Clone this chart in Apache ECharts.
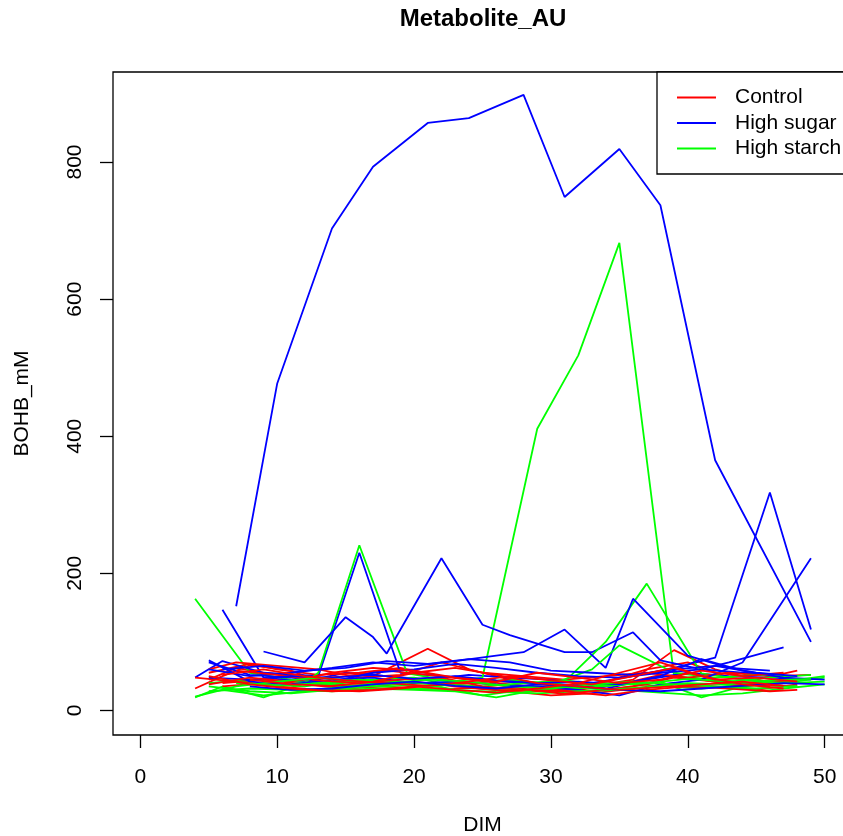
<!DOCTYPE html>
<html>
<head>
<meta charset="utf-8">
<title>Metabolite_AU</title>
<script src="https://cdn.jsdelivr.net/npm/echarts@6/dist/echarts.min.js"></script>
<style>
  html, body { margin: 0; padding: 0; background: #fff; }
  #chart { width: 843px; height: 836px; }
</style>
</head>
<body>
<div id="chart"></div>
<script>
// BOHB (mM) per animal across days in milk, one [DIM, value] list per animal.
const groupNames = ['Control', 'High sugar', 'High starch'];
const groupColors = ['#FF0000', '#0000FF', '#00FF00'];

const controlCows = [
  [[5,45],[7,62],[9,55],[12,48],[14,42],[17,50],[21,90],[24,60],[27,45],[30,38],[33,35],[36,45],[39,88],[42,60],[45,45],[48,58]],
  [[4,32],[6,50],[8,66],[11,58],[14,35],[17,38],[20,42],[23,35],[26,30],[29,28],[32,30],[35,38],[38,52],[41,45],[44,35],[47,40]],
  [[5,55],[8,68],[10,60],[13,52],[16,55],[19,62],[22,50],[25,45],[28,40],[31,35],[34,42],[37,60],[40,70],[43,48],[46,42],[48,45]],
  [[6,40],[9,45],[12,38],[15,32],[18,35],[21,30],[24,33],[27,28],[30,22],[33,25],[36,32],[39,40],[42,35],[45,30],[48,38]],
  [[5,60],[7,70],[10,65],[13,60],[16,48],[19,52],[22,70],[25,55],[28,50],[31,45],[34,50],[37,55],[40,48],[43,55],[46,50],[49,52]],
  [[6,35],[9,40],[12,45],[15,50],[18,58],[21,52],[24,45],[27,38],[30,32],[33,28],[36,35],[39,48],[42,42],[45,38],[48,35]],
  [[4,48],[7,42],[10,35],[13,30],[16,28],[19,32],[22,38],[25,40],[28,32],[31,24],[34,30],[37,38],[40,55],[43,40],[46,35]],
  [[7,58],[10,52],[13,44],[16,40],[19,45],[22,48],[25,35],[28,30],[31,28],[34,22],[37,30],[40,35],[43,32],[46,28],[48,30]],
  [[5,38],[8,48],[11,42],[14,55],[17,62],[20,58],[23,48],[26,42],[29,55],[32,48],[35,40],[38,45],[41,58],[44,50],[47,55]],
  [[6,52],[9,60],[12,50],[15,44],[18,40],[21,36],[24,42],[27,50],[30,44],[33,38],[36,50],[39,62],[42,45],[45,48],[48,42]],
  [[8,45],[11,38],[14,36],[17,42],[20,55],[23,62],[26,52],[29,40],[32,35],[35,30],[38,34],[41,38],[44,42],[47,36]],
  [[5,50],[8,38],[11,32],[14,28],[17,30],[20,35],[23,30],[26,26],[29,32],[32,40],[35,55],[38,70],[41,50],[44,38],[47,32]]
];

const highSugarCows = [
  [[7,152],[10,477],[14,703],[17,793],[21,857],[24,864],[28,898],[31,749],[35,819],[38,737],[42,365],[49,100]],
  [[6,147],[9,48],[12,42],[15,55],[18,50],[21,45],[24,52],[27,48],[30,45],[33,40],[36,50],[39,62],[42,77],[46,318],[49,118]],
  [[4,48],[6,72],[9,55],[13,50],[16,230],[19,55],[22,50],[25,45],[28,40],[31,38],[34,32],[37,45],[40,55],[43,50],[46,48],[49,45]],
  [[9,86],[12,70],[15,136],[17,107],[18,83],[22,222],[25,125],[27,110],[31,85],[33,85],[36,114],[38,73],[41,60],[44,55],[47,52]],
  [[5,60],[8,50],[11,55],[14,62],[17,70],[20,65],[23,72],[26,80],[28,85],[31,118],[34,62],[36,163],[40,80],[43,62],[46,58]],
  [[5,73],[8,42],[11,38],[14,45],[17,48],[20,40],[23,42],[26,38],[29,35],[32,30],[35,22],[38,38],[41,45],[44,70],[49,222]],
  [[5,70],[8,52],[11,48],[14,42],[17,55],[20,60],[23,68],[26,62],[29,55],[32,50],[35,48],[38,55],[41,60],[43,70],[47,92]],
  [[5,48],[8,45],[11,50],[14,48],[17,52],[20,46],[23,50],[26,44],[29,40],[32,42],[35,38],[38,50],[41,75],[44,58],[47,48],[50,45]],
  [[6,60],[9,65],[12,58],[15,62],[18,72],[21,68],[24,75],[27,70],[30,58],[33,55],[36,52],[39,60],[42,65],[45,55],[48,50]],
  [[8,35],[11,30],[14,32],[17,38],[20,42],[23,36],[26,32],[29,38],[32,35],[35,30],[38,28],[41,32],[44,36],[47,40],[50,38]]
];

const highStarchCows = [
  [[4,163],[8,55],[11,45],[14,38],[17,35],[20,40],[23,36],[26,32],[29,30],[32,34],[35,40],[38,36],[41,32],[44,38],[47,42],[50,50]],
  [[5,40],[8,45],[11,42],[14,38],[17,45],[20,48],[22,40],[25,48],[29,411],[32,518],[35,682],[39,50],[42,45],[45,40],[48,44]],
  [[4,19],[6,35],[9,19],[12,40],[13,55],[16,241],[19.5,54],[23,42],[26,38],[29,35],[32,32],[35,38],[38,42],[41,19],[44,35],[47,40],[50,48]],
  [[5,28],[8,32],[11,30],[14,28],[17,32],[20,30],[23,28],[26,19],[29,30],[31,42],[34,100],[37,185],[41,54],[44,45],[47,40],[50,42]],
  [[6,45],[9,38],[12,35],[15,42],[18,38],[21,35],[24,40],[27,45],[30,38],[33,60],[35,95],[39,55],[42,48],[45,52],[48,50]],
  [[5,35],[8,28],[11,25],[14,30],[17,36],[20,32],[23,30],[26,27],[29,25],[32,28],[35,30],[38,26],[41,22],[44,25],[47,32],[50,38]],
  [[7,40],[10,36],[13,40],[16,45],[19,42],[22,38],[25,35],[28,40],[31,44],[34,36],[37,40],[40,46],[43,42],[46,48],[49,52]],
  [[6,30],[9,22],[12,28],[15,35],[18,40],[21,45],[24,42],[27,35],[30,32],[33,38],[36,42],[39,38],[42,35],[45,32],[48,36]],
  [[4,20],[7,35],[10,42],[13,48],[16,42],[19,38],[22,34],[25,22],[28,30],[31,35],[34,30],[37,34],[40,40],[43,38],[46,44],[49,46]]
];

const xTicks = [0, 10, 20, 30, 40, 50];
const yTicks = [0, 200, 400, 600, 800];

const groups = [controlCows, highSugarCows, highStarchCows];

// Interleave the groups so no single colour sits entirely on top.
const series = [];
const maxLen = Math.max(...groups.map(g => g.length));
for (let i = 0; i < maxLen; i++) {
  groups.forEach((g, gi) => {
    if (i < g.length) {
      series.push({
        name: groupNames[gi],
        type: 'line',
        data: g[i],
        showSymbol: false,
        symbol: 'none',
        silent: true,
        color: groupColors[gi],
        lineStyle: { width: 1.8, color: groupColors[gi] },
        emphasis: { disabled: true }
      });
    }
  });
}

const FONT = '"Liberation Sans", Arial, sans-serif';

const chart = echarts.init(document.getElementById('chart'), null, { renderer: 'canvas' });
chart.setOption({
  animation: false,
  backgroundColor: '#ffffff',
  grid: {
    left: 113, top: 72, width: 739, height: 663,
    show: true, borderColor: '#000', borderWidth: 1.3, backgroundColor: 'transparent',
    containLabel: false,
    outerBoundsMode: 'none'
  },
  graphic: [{
    type: 'text',
    x: 483, y: 19,
    style: {
      text: 'Metabolite_AU',
      font: 'bold 24px ' + FONT,
      fill: '#000',
      textAlign: 'center',
      textVerticalAlign: 'middle'
    }
  }],
  legend: {
    data: groupNames,
    orient: 'vertical',
    left: 657, top: 72,
    padding: [15, 60, 15, 20],
    itemGap: 4.5,
    itemWidth: 39, itemHeight: 2,
    icon: 'rect',
    borderColor: '#000', borderWidth: 1.3,
    backgroundColor: '#fff',
    selectedMode: false,
    textStyle: { fontFamily: FONT, fontSize: 21, color: '#000', padding: [0, 0, 0, 14] }
  },
  xAxis: {
    type: 'value',
    min: -2, max: 52,
    name: 'DIM',
    nameLocation: 'middle',
    nameGap: 80,
    nameTextStyle: { fontFamily: FONT, fontSize: 21, color: '#000' },
    axisLine: { show: false, onZero: false },
    splitLine: { show: false },
    axisTick: { show: true, inside: false, length: 13, customValues: xTicks, lineStyle: { color: '#000', width: 1.3 } },
    axisLabel: { customValues: xTicks, margin: 32, fontFamily: FONT, fontSize: 21, color: '#000' }
  },
  yAxis: {
    type: 'value',
    min: -35.8, max: 931.3,
    name: 'BOHB_mM',
    nameLocation: 'middle',
    nameGap: 80,
    nameTextStyle: { fontFamily: FONT, fontSize: 21, color: '#000' },
    axisLine: { show: false, onZero: false },
    splitLine: { show: false },
    axisTick: { show: true, inside: false, length: 13, customValues: yTicks, lineStyle: { color: '#000', width: 1.3 } },
    axisLabel: { customValues: yTicks, rotate: 90, margin: 27, fontFamily: FONT, fontSize: 21, color: '#000' }
  },
  series: series
});
</script>
</body>
</html>
